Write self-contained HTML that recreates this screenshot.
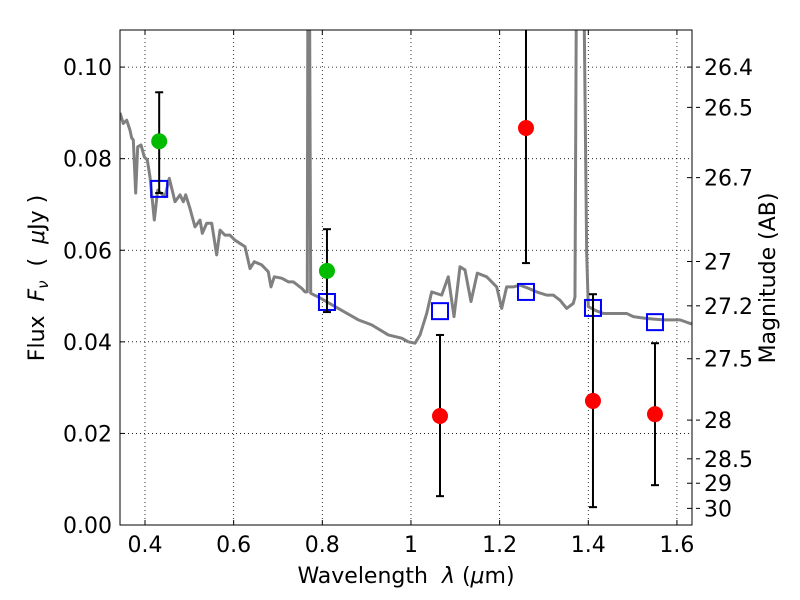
<!DOCTYPE html>
<html><head><meta charset="utf-8"><style>
body{margin:0;background:#fff;}
svg{display:block;font-family:"DejaVu Sans","Liberation Sans",sans-serif;}
</style></head><body>
<svg id="chart" width="800" height="600">
<defs><clipPath id="clip"><rect x="120" y="30" width="572" height="495"/></clipPath></defs>
<rect x="0" y="0" width="800" height="600" fill="#fff"/>
<g id="grid"></g>
<g id="plot" clip-path="url(#clip)"></g>
<rect x="120" y="30" width="572" height="495" fill="none" stroke="#000" stroke-width="1"/>
<g id="axes"></g>
<text x="406" y="583" font-size="22" text-anchor="middle" xml:space="preserve">Wavelength  <tspan font-style="italic">λ</tspan> (<tspan font-style="italic">μ</tspan>m)</text>
<text transform="translate(44,278) rotate(-90)" font-size="22" text-anchor="middle" xml:space="preserve">Flux  <tspan font-style="italic">F<tspan font-size="15" dy="4">ν</tspan></tspan><tspan dy="-4">  (  </tspan><tspan font-style="italic">μ</tspan>Jy )</text>
<text transform="translate(775,278) rotate(-90)" font-size="22" text-anchor="middle">Magnitude (AB)</text>
</svg>
<script>
const specLam=[0.3436,0.351,0.3587,0.3662,0.370,0.3736,0.379,0.3835,0.391,0.3984,0.4052,0.4113,0.421,0.4286,0.4451,0.4548,0.4677,0.479,0.4864,0.4918,0.5015,0.5128,0.5241,0.5293,0.5392,0.5505,0.5617,0.5692,0.5805,0.5917,0.603,0.6256,0.6369,0.6466,0.6633,0.6781,0.6842,0.6917,0.7084,0.7233,0.7345,0.7535,0.7609,0.7661,0.7677,0.7706,0.7738,0.791,0.8286,0.8812,0.9114,0.9488,0.9791,0.994,1.0091,1.0204,1.0355,1.0467,1.0693,1.0842,1.0971,1.1106,1.1219,1.1354,1.1496,1.1708,1.1934,1.2047,1.2159,1.2308,1.2459,1.2646,1.2836,1.3062,1.3211,1.3362,1.3513,1.3662,1.37,1.3738,1.3887,1.3964,1.4,1.4151,1.4339,1.4866,1.5015,1.5317,1.5692,1.6068,1.6332];
const specFlux=[0.0900,0.0877,0.0884,0.0862,0.0845,0.0841,0.0725,0.0826,0.0830,0.0804,0.0797,0.0760,0.0666,0.0731,0.0717,0.0757,0.0706,0.0721,0.0706,0.0721,0.0691,0.0651,0.0666,0.0637,0.0659,0.0659,0.0590,0.0644,0.0633,0.0633,0.0622,0.0608,0.0560,0.0575,0.0568,0.0553,0.0520,0.0542,0.0539,0.0531,0.0531,0.0517,0.0509,0.0509,0.13,0.13,0.0506,0.0498,0.0477,0.0448,0.0437,0.0415,0.0408,0.0400,0.0397,0.0415,0.0462,0.0509,0.0502,0.0542,0.0455,0.0564,0.0557,0.0488,0.0550,0.0542,0.0520,0.0473,0.0520,0.0520,0.0524,0.0517,0.0509,0.0502,0.0502,0.0491,0.0473,0.0484,0.0498,0.13,0.13,0.0594,0.0477,0.0469,0.0462,0.0462,0.0455,0.0451,0.0448,0.0448,0.0439];
const greenLam=[0.432,0.8105];
const greenFlux=[0.0838,0.0555];
const greenLo=[0.0725,0.0465];
const greenHi=[0.0945,0.0646];
const redLam=[1.0655,1.2595,1.4106,1.5505];
const redFlux=[0.0238,0.0867,0.0271,0.0242];
const redLo=[0.0063,0.0572,0.0039,0.0087];
const redHi=[0.0415,0.12,0.0504,0.0397];
const modelLam=[0.432,0.8105,1.0655,1.2595,1.4106,1.5505];
const modelFlux=[0.0734,0.0487,0.0467,0.0509,0.0474,0.0443];
const xTicks=[0.4,0.6,0.8,1.0,1.2,1.4,1.6];
const xTickLabels=["0.4","0.6","0.8","1","1.2","1.4","1.6"];
const yTicks=[0,0.02,0.04,0.06,0.08,0.10];
const yTickLabels=["0.00","0.02","0.04","0.06","0.08","0.10"];
const magTicks=[26.4,26.5,26.7,27,27.2,27.5,28,28.5,29,30];
const magTickLabels=["26.4","26.5","26.7","27","27.2","27.5","28","28.5","29","30"];

const NS="http://www.w3.org/2000/svg";
const X0=120,X1=692,Y0=525,Y1=30,xmin=0.3436,xmax=1.634,ymin=0,ymax=0.1081;
const sx=v=>X0+(v-xmin)/(xmax-xmin)*(X1-X0);
const sy=v=>Y0-(v-ymin)/(ymax-ymin)*(Y0-Y1);
function mk(tag,attrs,parent){const e=document.createElementNS(NS,tag);for(const k in attrs)e.setAttribute(k,attrs[k]);parent.appendChild(e);return e;}
const grid=document.getElementById('grid'),plot=document.getElementById('plot'),axes=document.getElementById('axes');
xTicks.forEach((t,i)=>{const x=sx(t);
 const g=mk('line',{x1:x,x2:x,y1:Y1,y2:Y0,stroke:'#000','stroke-width':0.8,'stroke-dasharray':'1,3'},grid);
 
 mk('line',{x1:x,x2:x,y1:Y0,y2:Y0-5,stroke:'#000'},axes);mk('line',{x1:x,x2:x,y1:Y1,y2:Y1+5,stroke:'#000'},axes);
 const tx=mk('text',{x:x,y:Y0+27,'font-size':22,'text-anchor':'middle'},axes);tx.textContent=xTickLabels[i];
 });
yTicks.forEach((t,i)=>{const y=sy(t);
 const g=mk('line',{x1:X0,x2:X1,y1:y,y2:y,stroke:'#000','stroke-width':0.8,'stroke-dasharray':'1,3'},grid);
 
 mk('line',{x1:X0,x2:X0+5,y1:y,y2:y,stroke:'#000'},axes);
 const tx=mk('text',{x:X0-8,y:y+8,'font-size':22,'text-anchor':'end'},axes);tx.textContent=yTickLabels[i];
 });
magTicks.forEach((m,i)=>{const y=sy(Math.pow(10,(23.9-m)/2.5));
 mk('line',{x1:X1-5,x2:X1,y1:y,y2:y,stroke:'#000'},axes);mk('line',{x1:X1+4,x2:X1+8,y1:y,y2:y,stroke:'#000'},axes);
 const tx=mk('text',{x:X1+12,y:y+8,'font-size':22},axes);tx.textContent=magTickLabels[i];
 });
const sp=mk('polyline',{points:specLam.map((l,i)=>sx(l)+','+sy(specFlux[i])).join(' '),fill:'none',stroke:'#808080','stroke-width':3,'stroke-linejoin':'round'},plot);

function errbar(l,lo,hi){const x=sx(l);
 const g=mk('g',{},plot);
 mk('line',{x1:x,x2:x,y1:sy(lo),y2:sy(hi),stroke:'#000','stroke-width':2},g);
 mk('line',{x1:x-4,x2:x+4,y1:sy(lo),y2:sy(lo),stroke:'#000','stroke-width':2},g);
 mk('line',{x1:x-4,x2:x+4,y1:sy(hi),y2:sy(hi),stroke:'#000','stroke-width':2},g);}
modelLam.forEach((l,i)=>{const r=mk('rect',{x:sx(l)-8,y:sy(modelFlux[i])-8,width:16,height:16,fill:'none',stroke:'#0000ff','stroke-width':2},plot);
 });
greenLam.forEach((l,i)=>{errbar(l,greenLo[i],greenHi[i]);
 const c=mk('circle',{cx:sx(l),cy:sy(greenFlux[i]),r:8,fill:'#00bb00'},plot);
 });
redLam.forEach((l,i)=>{errbar(l,redLo[i],redHi[i]);
 const c=mk('circle',{cx:sx(l),cy:sy(redFlux[i]),r:8,fill:'#ff0000'},plot);
 });
</script>
</body></html>
